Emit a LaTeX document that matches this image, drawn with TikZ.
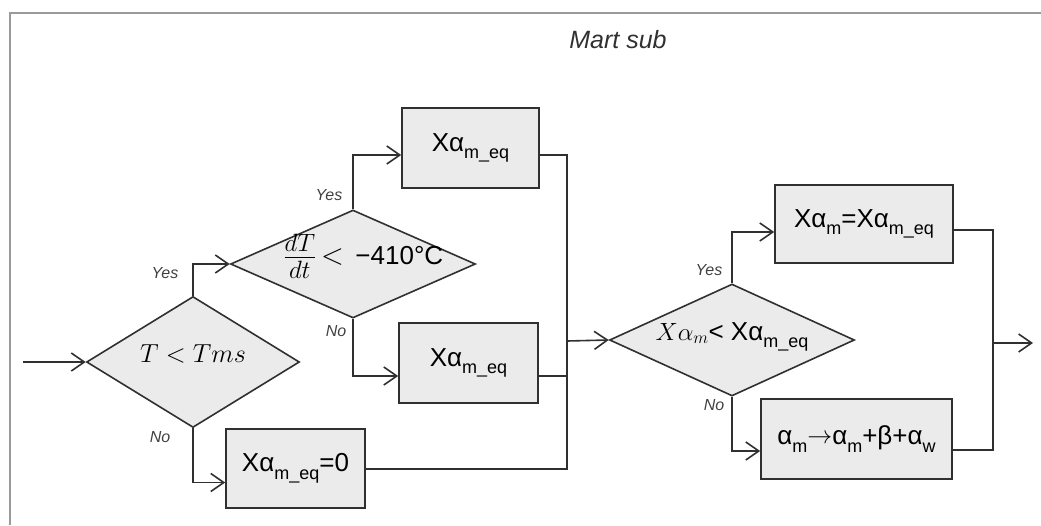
\documentclass[tikz,border=0pt]{standalone}
\usepackage{fontspec}
\setmainfont{Liberation Sans}
\usetikzlibrary{shapes.geometric,arrows.meta,calc}
\definecolor{boxfill}{HTML}{EBEBEB}
\definecolor{ink}{HTML}{303030}
\definecolor{framec}{HTML}{9A9A9A}
\definecolor{lblc}{HTML}{404040}
\newcommand\sbs[1]{\raisebox{-0.3em}{\fontsize{18}{18}\selectfont #1}}
\newcommand\zb[1]{\smash{\makebox[0pt]{#1}}}
\newcommand\rarr{\raisebox{0.05em}{$\rightarrow$}}
\tikzset{
  procbox/.style={draw=ink, line width=1.6pt, fill=boxfill, rectangle, inner sep=0pt,
    font=\fontsize{26}{30}\selectfont},
  decide/.style={draw=ink, line width=1.6pt, fill=boxfill, diamond, inner sep=0pt,
    font=\fontsize{26}{30}\selectfont},
  conn/.style={draw=ink, line width=1.6pt},
  arr/.style={conn, -{Straight Barb[length=13pt,width=18pt,line width=1.6pt]}},
  yn/.style={font=\fontsize{16}{18}\selectfont\itshape, text=lblc, inner sep=0pt},
}
\begin{document}
\begin{tikzpicture}[x=1pt,y=-1pt]
\useasboundingbox (0,0) rectangle (1041,525);
% frame
\draw[framec, line width=2pt] (10,525) -- (10,13) -- (1041,13);
\node[font=\fontsize{25}{28}\selectfont\itshape, text=ink] (title) at (618,40) {Mart sub};

% decisions
\node[decide, minimum width=213pt, minimum height=131pt] (d1) at (193,362) {\zb{\scalebox{1.05}{$T < Tms$}}};
\node[decide, minimum width=245pt, minimum height=108pt] (d2) at (353,264) {\zb{\hspace*{20pt}\raisebox{-2pt}{\scalebox{1.45}{$\frac{dT}{dt}$}}\,\scalebox{1.2}{$<$}\, −410°C}};
\node[decide, minimum width=245pt, minimum height=112pt] (d3) at (732,340) {\zb{$X\alpha_m$< Xα\sbs{m\_eq}}};

% process boxes
\node[procbox, minimum width=137pt, minimum height=80pt] (b1) at (470.5,148) {Xα\sbs{m\_eq}};
\node[procbox, minimum width=139pt, minimum height=80pt] (b2) at (468.5,363) {Xα\sbs{m\_eq}};
\node[procbox, minimum width=139pt, minimum height=79pt] (b3) at (295.5,468.5) {Xα\sbs{m\_eq}=0};
\node[procbox, minimum width=178pt, minimum height=78pt] (b4) at (864,224) {Xα\sbs{m}=Xα\sbs{m\_eq}};
\node[procbox, minimum width=191pt, minimum height=80pt] (b5) at (856.5,439) {α\sbs{m}\rarr α\sbs{m}+β+α\sbs{w}};

% junction coordinates
\coordinate (in) at (23,362);
\coordinate (j1) at (567,341);
\coordinate (j2) at (993,343);
\coordinate (out) at (1033,343);

% connectors
\draw[arr] (in) -- (d1.west);
\draw[arr] (d1.north) |- (d2.west);
\draw[arr] (d1.south) |- ([yshift=-14pt]b3.west);
\draw[arr] (d2.north) |- ([yshift=-7pt]b1.west);
\draw[arr] (d2.south) |- ([yshift=-13pt]b2.west);
\draw[conn] ([yshift=-7pt]b1.east) -| (j1);
\draw[conn] ([yshift=-13pt]b2.east) -| (j1);
\draw[conn] ([yshift=-0.5pt]b3.east) -| (j1);
\draw[arr] (j1) -- (d3.west);
\draw[arr] (d3.north) |- ([yshift=-8pt]b4.west);
\draw[arr] (d3.south) |- ([yshift=-12pt]b5.west);
\draw[conn] ([yshift=-6pt]b4.east) -| (j2);
\draw[conn] ([yshift=-11pt]b5.east) -| (j2);
\draw[arr] (j2) -- (out);

% yes/no labels
\node[yn] (l1) at (165,273) {Yes};
\node[yn] (l2) at (329,195) {Yes};
\node[yn] (l3) at (336,331) {No};
\node[yn] (l4) at (160,437) {No};
\node[yn] (l5) at (709,270) {Yes};
\node[yn] (l6) at (714,405) {No};
\end{tikzpicture}
\end{document}
